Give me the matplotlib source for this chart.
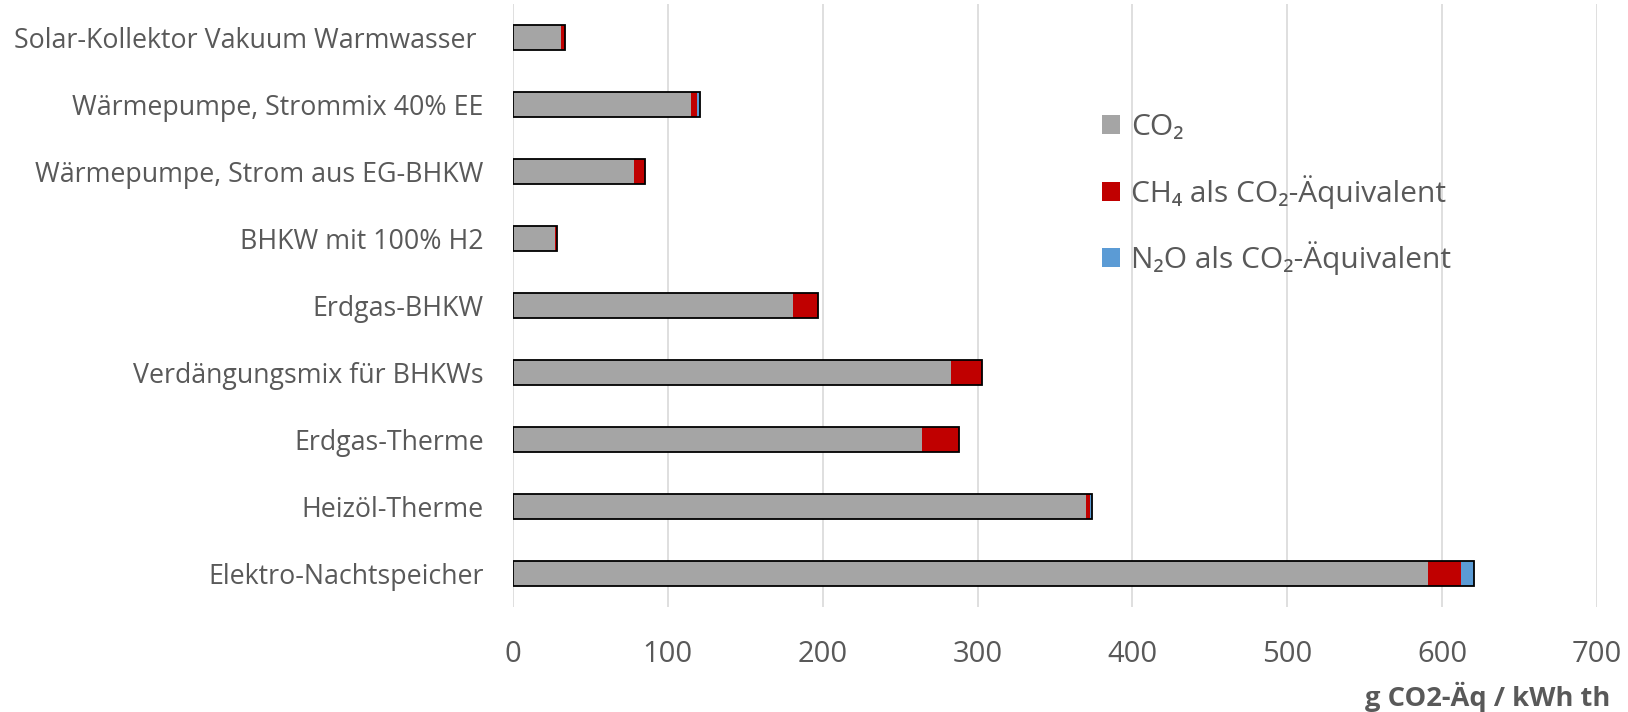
import matplotlib
matplotlib.use("Agg")
import matplotlib.pyplot as plt
from matplotlib.patches import Patch
import numpy as np

plt.rcParams['font.family'] = ['Open Sans', 'DejaVu Sans']

categories = [
    "Solar-Kollektor Vakuum Warmwasser ",
    "Wärmepumpe, Strommix 40% EE",
    "Wärmepumpe, Strom aus EG-BHKW",
    "BHKW mit 100% H2",
    "Erdgas-BHKW",
    "Verdängungsmix für BHKWs",
    "Erdgas-Therme",
    "Heizöl-Therme",
    "Elektro-Nachtspeicher",
]
co2 = [31, 115, 78, 27, 181, 283, 264, 370, 591]
ch4 = [2.5, 3.5, 7, 1.2, 16, 20, 24, 2.5, 21]
n2o = [0, 2, 0, 0, 0, 0, 0, 1.2, 8.5]

series_labels = ["CO₂", "CH₄ als CO₂-Äquivalent", "N₂O als CO₂-Äquivalent"]
series_colors = ["#A5A5A5", "#C00000", "#5B9BD5"]
xticks = [0, 100, 200, 300, 400, 500, 600, 700]
xlabel = "g CO2-Äq / kWh th"

text_color = "#595959"

fig = plt.figure(figsize=(16.28, 7.12), dpi=100)
ax = fig.add_axes([513 / 1628, 1 - 607 / 712, (1597 - 513) / 1628, (607 - 4) / 712])

y = np.arange(len(categories))
h = 0.36
co2 = np.array(co2, dtype=float)
ch4 = np.array(ch4, dtype=float)
n2o = np.array(n2o, dtype=float)

ax.barh(y, co2, height=h, color=series_colors[0], linewidth=0, zorder=3)
ax.barh(y, ch4, left=co2, height=h, color=series_colors[1], linewidth=0, zorder=3)
ax.barh(y, n2o, left=co2 + ch4, height=h, color=series_colors[2], linewidth=0, zorder=3)
total = co2 + ch4 + n2o
ax.barh(y, total, height=h, fill=False, edgecolor="black", linewidth=1.3, zorder=4)

ax.set_ylim(len(categories) - 0.5, -0.5)
ax.set_xlim(0, 700)
ax.set_xticks(xticks)
ax.set_xticklabels([str(t) for t in xticks])
ax.set_yticks(y)
ax.set_yticklabels(categories)

ax.grid(axis="x", color="#D9D9D9", linewidth=1.2, zorder=0)
ax.set_axisbelow(True)
for s in ax.spines.values():
    s.set_visible(False)
ax.tick_params(axis="x", length=0, pad=24, labelsize=21, labelcolor=text_color)
ax.tick_params(axis="y", length=0, pad=21, labelsize=19.3, labelcolor=text_color)

fig.text(1610 / 1628, 1 - 697 / 712, xlabel, ha="right", va="center",
         fontsize=19.6, fontweight="bold", color=text_color)

handles = [Patch(facecolor=c, edgecolor="none") for c in series_colors]
leg = ax.legend(handles, series_labels, loc="upper left",
                bbox_to_anchor=(1102 / 1628, 1 - 113 / 712),
                bbox_transform=fig.transFigure, frameon=False,
                fontsize=21.5, handlelength=0.6, handleheight=0.6,
                handletextpad=0.38, labelspacing=1.1,
                borderpad=0, borderaxespad=0)
for t in leg.get_texts():
    t.set_color(text_color)

fig.savefig("out.png", dpi=100)
